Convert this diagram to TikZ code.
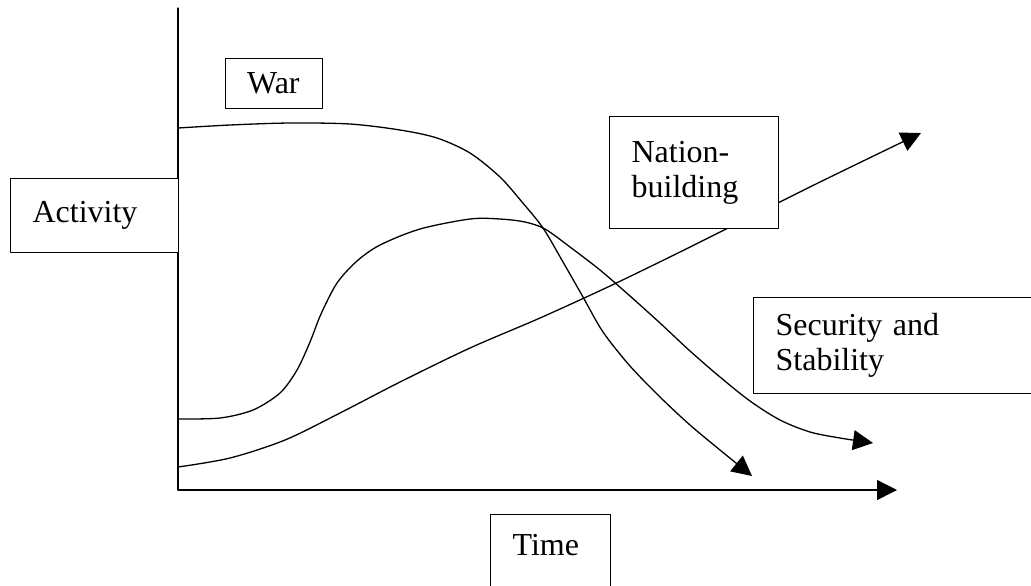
\documentclass[tikz,border=0pt]{standalone}
\usepackage{fontspec}
\setmainfont{Liberation Serif}
\usetikzlibrary{arrows.meta}

\tikzset{
    labelbox/.style={draw, fill=white, line width=0.6pt, anchor=north west,
        align=left, inner xsep=11pt, font=\fontsize{16}{17.5}\selectfont},
    trend/.style={line width=0.65pt, -{Triangle[length=10pt, width=10pt]}}
}

\begin{document}
\begin{tikzpicture}[x=0.5pt, y=-0.5pt, line cap=round, line join=round]

    % ------------------------------------------------------------------
    % 0. Page frame (same size as the reference)
    % ------------------------------------------------------------------
    \useasboundingbox (0,0) rectangle (1031,585);
    \clip (0,0) rectangle (1031,585);

    % ------------------------------------------------------------------
    % 1. Axes
    % ------------------------------------------------------------------
    \coordinate (top) at (178,8);
    \coordinate (origin) at (178,490);
    \coordinate (tend) at (897,490);
    \draw[line width=0.6pt] (top) -- (origin);
    \draw[trend] (origin) -- (tend);

    % ------------------------------------------------------------------
    % 2. Trend curves (drawn before the boxes so these sit on top)
    % ------------------------------------------------------------------
    % War: high and flat, then falling off
    \draw[trend] plot[smooth, tension=0.5] coordinates {
        (178,128) (230,125) (290,123) (350,124) (400,130) (437,138)
        (470,153) (500,177) (522,202) (543,228) (563,262) (583,297)
        (603,332) (630,366) (660,397) (690,425) (720,450) (752,476)};

    % Security and Stability: rising hump
    \draw[trend] plot[smooth, tension=0.5] coordinates {
        (178,419) (220,418) (253,410) (280,393) (297,370) (310,342)
        (321,314) (337,283) (357,261) (380,245) (420,229) (470,219)
        (500,219) (525,222) (545,229) (570,247) (600,270) (630,296)
        (660,323) (690,351) (720,377) (750,401) (780,420) (810,432)
        (840,438) (873,443)};

    % Nation-building: steady growth
    \draw[trend] plot[smooth, tension=0.5] coordinates {
        (178,467) (230,458) (285,440) (340,413) (400,382) (470,348)
        (540,318) (610,286) (680,252) (750,217) (820,182) (921,133)};

    % ------------------------------------------------------------------
    % 3. Labels
    % ------------------------------------------------------------------
    \node[labelbox, text width=27pt, inner xsep=10.75pt, minimum height=25pt]
        (war) at (225,58) {War};
    \node[labelbox, text width=62pt, minimum height=37pt]
        (activity) at (10,178) {Activity};
    \node[labelbox, text width=62.5pt, minimum height=56pt]
        (nation) at (609,116) {Nation-\\building};
    \node[labelbox, text width=128pt, minimum height=48pt]
        (security) at (753,297) {Security and\\Stability};
    \node[labelbox, text width=38pt, inner ysep=10pt, text depth=40pt]
        (time) at (490,514) {Time};

\end{tikzpicture}
\end{document}
